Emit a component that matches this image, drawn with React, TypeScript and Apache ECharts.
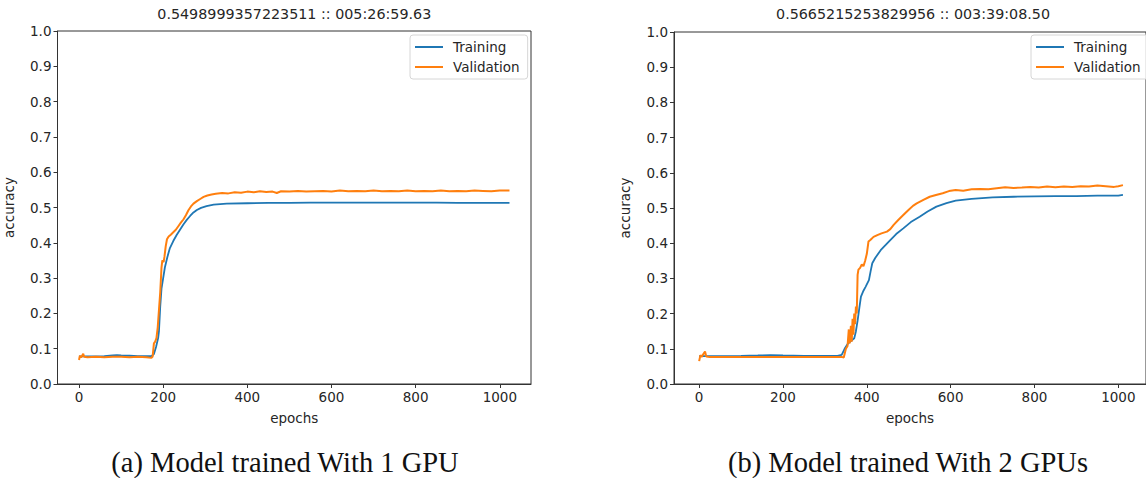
import React, { useEffect, useRef } from 'react';
import * as echarts from 'echarts';

const xTickValues = [0, 200, 400, 600, 800, 1000];
const seriesNames = ['Training', 'Validation'];
const titles = ['0.5498999357223511 :: 005:26:59.63', '0.5665215253829956 :: 003:39:08.50'];
const captions = ['(a) Model trained With 1 GPU', '(b) Model trained With 2 GPUs'];

// Model trained with 1 GPU
const train1: [number, number][] = [
  [0, 0.078], [20, 0.078], [40, 0.078], [60, 0.079], [80, 0.081], [90, 0.082], [100, 0.081],
  [120, 0.080], [140, 0.079], [160, 0.079], [172, 0.079], [178, 0.085], [183, 0.105], [188, 0.13],
  [190, 0.15], [193, 0.22], [196, 0.27], [200, 0.30], [204, 0.33], [210, 0.36], [216, 0.385],
  [224, 0.405], [232, 0.422], [240, 0.437], [248, 0.452], [256, 0.465], [264, 0.476], [272, 0.486],
  [280, 0.493], [290, 0.499], [303, 0.504], [320, 0.508], [351, 0.511], [400, 0.512], [450, 0.513],
  [500, 0.513], [550, 0.514], [600, 0.514], [650, 0.514], [700, 0.514], [750, 0.514], [800, 0.514],
  [850, 0.514], [900, 0.513], [950, 0.513], [1000, 0.513], [1023, 0.513],
];
const val1: [number, number][] = [
  [0, 0.068], [2, 0.080], [5, 0.075], [10, 0.086], [12, 0.077], [20, 0.076], [40, 0.077], [60, 0.076],
  [80, 0.077], [100, 0.077], [120, 0.076], [140, 0.077], [160, 0.076], [172, 0.074], [175, 0.078],
  [178, 0.115], [181, 0.120], [184, 0.130], [187, 0.160], [190, 0.210], [193, 0.260], [196, 0.330],
  [198, 0.350], [201, 0.345], [203, 0.360], [206, 0.390], [209, 0.410], [213, 0.418], [218, 0.423],
  [224, 0.430], [230, 0.437], [236, 0.447], [242, 0.457], [248, 0.466], [254, 0.478], [260, 0.492],
  [266, 0.503], [272, 0.511], [280, 0.518], [288, 0.524], [296, 0.530], [305, 0.534], [315, 0.537],
  [325, 0.539], [340, 0.541], [355, 0.540], [370, 0.543], [385, 0.542], [400, 0.545], [415, 0.543],
  [430, 0.546], [445, 0.544], [460, 0.545], [470, 0.541], [480, 0.546], [500, 0.545], [520, 0.547],
  [540, 0.545], [560, 0.546], [580, 0.547], [600, 0.545], [620, 0.548], [640, 0.546], [660, 0.547],
  [680, 0.546], [700, 0.548], [720, 0.546], [740, 0.547], [760, 0.546], [780, 0.548], [800, 0.546],
  [820, 0.547], [840, 0.546], [860, 0.548], [880, 0.546], [900, 0.547], [920, 0.546], [940, 0.548],
  [960, 0.547], [980, 0.546], [1000, 0.548], [1023, 0.548],
];

// Model trained with 2 GPUs
const train2: [number, number][] = [
  [0, 0.079], [20, 0.079], [50, 0.079], [100, 0.080], [140, 0.081], [170, 0.082], [200, 0.081],
  [250, 0.080], [300, 0.080], [330, 0.080], [340, 0.083], [347, 0.100], [355, 0.115], [362, 0.122],
  [370, 0.130], [374, 0.150], [378, 0.180], [382, 0.215], [386, 0.248], [392, 0.265], [397, 0.276],
  [405, 0.295], [409, 0.320], [413, 0.343], [420, 0.358], [433, 0.380], [445, 0.395], [456, 0.409],
  [470, 0.426], [487, 0.442], [505, 0.460], [526, 0.475], [545, 0.490], [566, 0.504], [590, 0.514],
  [612, 0.521], [650, 0.526], [700, 0.530], [750, 0.532], [800, 0.533], [850, 0.534], [900, 0.534],
  [950, 0.535], [1000, 0.535], [1011, 0.537],
];
const val2: [number, number][] = [
  [0, 0.065], [3, 0.082], [6, 0.077], [10, 0.085], [14, 0.092], [17, 0.078], [25, 0.077], [50, 0.077],
  [100, 0.077], [150, 0.077], [200, 0.077], [250, 0.077], [300, 0.077], [340, 0.077], [345, 0.075],
  [350, 0.100], [354, 0.108], [357, 0.155], [359, 0.115], [362, 0.165], [364, 0.120], [366, 0.185],
  [368, 0.140], [370, 0.200], [372, 0.170], [374, 0.220], [376, 0.200], [378, 0.310], [380, 0.325],
  [384, 0.330], [388, 0.340], [392, 0.335], [396, 0.350], [400, 0.370], [404, 0.405], [409, 0.410],
  [416, 0.418], [425, 0.423], [435, 0.428], [448, 0.433], [456, 0.440], [464, 0.452], [475, 0.466],
  [487, 0.480], [500, 0.495], [510, 0.506], [519, 0.513], [535, 0.523], [550, 0.532], [565, 0.537],
  [581, 0.542], [596, 0.548], [612, 0.551], [630, 0.549], [650, 0.553], [670, 0.554], [690, 0.553],
  [710, 0.556], [730, 0.559], [750, 0.557], [770, 0.558], [790, 0.560], [810, 0.558], [830, 0.561],
  [850, 0.559], [870, 0.561], [890, 0.560], [910, 0.562], [930, 0.561], [950, 0.564], [970, 0.562],
  [990, 0.560], [1000, 0.562], [1011, 0.565],
];

const BLUE = '#1f77b4';
const ORANGE = '#ff7f0e';
const FONT = 'DejaVu Sans';
const TXT = '#262626';
const TICK_FS = 13.5;

export default function App() {
  const ref = useRef<HTMLDivElement>(null);
  useEffect(() => {
    const chart = echarts.init(ref.current!, null, { renderer: 'svg' });
    const grids = [
      { left: 57.5, top: 31, width: 473.5, height: 353 },
      { left: 674, top: 32, width: 478, height: 352 },
    ];
    const xRanges = [
      { min: -51.15, max: 1074.15 },
      { min: -60, max: 1066 },
    ];
    const mkX = (i: number) => ({
      type: 'value',
      gridIndex: i,
      min: xRanges[i].min,
      max: xRanges[i].max,
      name: 'epochs',
      nameLocation: 'middle',
      nameGap: 27,
      nameTextStyle: { fontFamily: FONT, fontSize: TICK_FS, color: TXT },
      splitLine: { show: false },
      axisLine: { show: true, onZero: false, lineStyle: { color: '#333', width: 1 } },
      axisTick: { show: true, inside: false, length: 4, lineStyle: { color: '#333' }, customValues: xTickValues },
      axisLabel: { fontFamily: FONT, fontSize: TICK_FS, color: TXT, margin: 6, customValues: xTickValues, formatter: (v: number) => String(v) },
    });
    const mkY = (i: number) => ({
      type: 'value',
      gridIndex: i,
      min: 0,
      max: 1,
      interval: 0.1,
      name: 'accuracy',
      nameLocation: 'middle',
      nameGap: 42,
      nameTextStyle: { fontFamily: FONT, fontSize: TICK_FS, color: TXT },
      splitLine: { show: false },
      axisLine: { show: true, onZero: false, lineStyle: { color: '#333', width: 1 } },
      axisTick: { show: true, inside: false, length: 4, lineStyle: { color: '#333' } },
      axisLabel: { fontFamily: FONT, fontSize: TICK_FS, color: TXT, margin: 6, formatter: (v: number) => v.toFixed(1) },
    });
    const mkSeries = (name: string, data: [number, number][], i: number, color: string, w: number) => ({
      type: 'line',
      name,
      xAxisIndex: i,
      yAxisIndex: i,
      data,
      showSymbol: false,
      symbol: 'none',
      color,
      itemStyle: { color },
      lineStyle: { color, width: w },
    });
    const mkLegend = (left: number) => ({
      left,
      top: 35,
      orient: 'vertical',
      data: seriesNames,
      icon: 'rect',
      itemWidth: 28,
      itemHeight: 2,
      itemGap: 6,
      selectedMode: false,
      textStyle: { fontFamily: FONT, fontSize: TICK_FS, color: TXT, padding: [0, 0, 0, 5] },
      borderColor: '#d6d6d6',
      borderWidth: 1,
      borderRadius: 3,
      padding: [5, 8, 5, 5],
      backgroundColor: 'rgba(255,255,255,0.8)',
    });
    const centers = [grids[0].left + grids[0].width / 2, grids[1].left + grids[1].width / 2];
    chart.setOption({
      animation: false,
      backgroundColor: '#ffffff',
      grid: grids.map((g) => ({ ...g, show: true, borderColor: '#333', borderWidth: 1, backgroundColor: 'transparent' })),
      xAxis: [mkX(0), mkX(1)],
      yAxis: [mkY(0), mkY(1)],
      legend: [mkLegend(410), mkLegend(1031)],
      series: [
        mkSeries(seriesNames[0], train1, 0, BLUE, 1.8),
        mkSeries(seriesNames[1], val1, 0, ORANGE, 2),
        mkSeries(seriesNames[0], train2, 1, BLUE, 1.8),
        mkSeries(seriesNames[1], val2, 1, ORANGE, 2),
      ],
      graphic: [
        { type: 'text', x: centers[0], y: 14, style: { text: titles[0], fontFamily: FONT, fontSize: 14.3, fill: TXT, align: 'center', verticalAlign: 'middle' } },
        { type: 'text', x: centers[1], y: 14, style: { text: titles[1], fontFamily: FONT, fontSize: 14.3, fill: TXT, align: 'center', verticalAlign: 'middle' } },
        { type: 'text', x: 285, y: 462, style: { text: captions[0], fontFamily: 'Liberation Serif', fontSize: 28.5, fill: '#111', align: 'center', verticalAlign: 'middle' } },
        { type: 'text', x: 908, y: 462, style: { text: captions[1], fontFamily: 'Liberation Serif', fontSize: 28.5, fill: '#111', align: 'center', verticalAlign: 'middle' } },
      ],
    });
    return () => chart.dispose();
  }, []);
  return <div ref={ref} style={{ position: 'absolute', left: 0, top: 0, width: 1146, height: 478, background: '#fff' }} />;
}
